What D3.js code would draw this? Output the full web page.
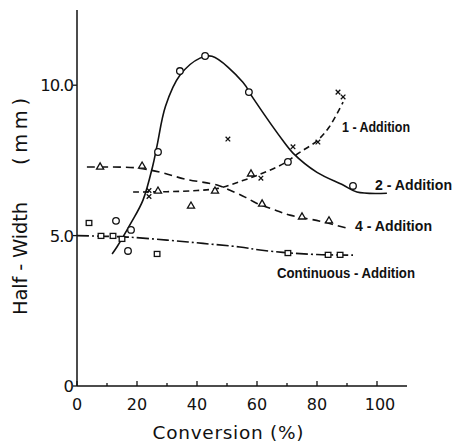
<!DOCTYPE html>
<html><head><meta charset="utf-8">
<script src="https://cdn.jsdelivr.net/npm/d3@7"></script>
<style>html,body{margin:0;padding:0;background:#fff}</style>
</head><body>
<svg id="c" width="455" height="443"></svg>
<script>
// ---- data ----
const xTicks = [0, 20, 40, 60, 80, 100];
const xMinorTicks = [10, 30, 50, 70, 90];
const yTicks = [0, 5, 10];
const yTickLabels = ["0", "5.0", "10.0"];
const xLabel = "Conversion (%)";
const yLabelParts = ["Half - Width", "(mm)"];
const seriesNames = ["1 - Addition", "2 - Addition", "4 - Addition", "Continuous - Addition"];

// 2-Addition (circles)
const twoX = [13, 17, 18, 27, 34.3, 42.7, 57.3, 70.3, 92];
const twoY = [5.49, 4.49, 5.19, 7.78, 10.47, 10.97, 9.77, 7.45, 6.65];
const twoFitX = [11.7, 13.3, 18, 22, 25.3, 26.7, 29.5, 34.3, 41, 45, 55.3, 58.7, 69.3, 72, 80, 88.7, 93.3, 103.3];
const twoFitY = [4.39, 4.62, 5.42, 6.18, 7.34, 8.0, 9.3, 10.33, 10.9, 10.96, 10.1, 9.57, 8.07, 7.74, 7.1, 6.68, 6.45, 6.41];

// 1-Addition (crosses)
const oneX = [24, 24, 50.3, 61.3, 72, 80.3, 87, 88.7];
const oneY = [6.5, 6.3, 8.21, 6.91, 7.95, 8.11, 9.77, 9.61];
const oneFitX = [18.7, 30, 40, 47, 55, 62, 69, 74, 80, 84, 88.7];
const oneFitY = [6.45, 6.46, 6.5, 6.57, 6.82, 7.08, 7.4, 7.75, 8.15, 8.6, 9.44];

// 4-Addition (triangles)
const fourX = [7.7, 21.7, 27, 38, 46, 58, 61.7, 75, 84];
const fourY = [7.28, 7.31, 6.48, 5.98, 6.48, 7.05, 6.05, 5.62, 5.49];
const fourFitX = [3.3, 12, 20, 28, 36, 46.7, 51, 56, 60, 66, 71, 81, 91];
const fourFitY = [7.28, 7.28, 7.25, 7.1, 6.88, 6.68, 6.51, 6.28, 6.07, 5.85, 5.68, 5.48, 5.22];

// Continuous-Addition (squares)
const contX = [4, 8, 12, 15, 26.7, 70.3, 83.7, 87.7];
const contY = [5.42, 4.99, 4.99, 4.89, 4.39, 4.42, 4.36, 4.36];
const contFitX = [0, 8, 17, 30, 42, 54.3, 61, 70, 80, 92];
const contFitY = [5.0, 4.98, 4.95, 4.85, 4.74, 4.62, 4.52, 4.43, 4.37, 4.35];

// ---- drawing ----
const svg = d3.select("#c");
const x = d3.scaleLinear().domain([0, 110]).range([77, 407]);
const y = d3.scaleLinear().domain([0, 12.5]).range([386, 10]);
const ink = "#111";

// axes
const gx = svg.append("g").attr("transform", `translate(0,${y(0)})`);
gx.append("line").attr("x1", x(0)).attr("x2", x(110)).attr("stroke", ink).attr("stroke-width", 1.5);
gx.selectAll(".maj").data(xTicks).join("line")
  .attr("x1", d => x(d)).attr("x2", d => x(d)).attr("y1", 0).attr("y2", -5)
  .attr("stroke", ink).attr("stroke-width", 1.3);
gx.selectAll(".min").data(xMinorTicks).join("line")
  .attr("x1", d => x(d)).attr("x2", d => x(d)).attr("y1", 0).attr("y2", -3)
  .attr("stroke", ink).attr("stroke-width", 1.3);
gx.selectAll("text").data(xTicks).join("text")
  .attr("x", d => x(d) + (d === 100 ? 3 : 0)).attr("y", 24)
  .attr("text-anchor", "middle")
  .attr("font-family", "DejaVu Sans, sans-serif").attr("font-size", 16)
  .attr("fill", ink).text(d => d);

const gy = svg.append("g").attr("transform", `translate(${x(0)},0)`);
gy.append("line").attr("y1", y(0)).attr("y2", y(12.5)).attr("stroke", ink).attr("stroke-width", 1.5);
gy.selectAll("line.t").data(yTicks).join("line").attr("class", "t")
  .attr("x1", 0).attr("x2", -4).attr("y1", d => y(d)).attr("y2", d => y(d))
  .attr("stroke", ink).attr("stroke-width", 1.3);
gy.selectAll("text").data(yTicks).join("text")
  .attr("x", -4).attr("y", d => y(d) + 6)
  .attr("text-anchor", "end")
  .attr("font-family", "DejaVu Sans, sans-serif").attr("font-size", 16.5)
  .attr("letter-spacing", -1)
  .attr("fill", ink).text((d, i) => yTickLabels[i]);

svg.append("text").attr("x", 228).attr("y", 439).attr("text-anchor", "middle")
  .attr("font-family", "DejaVu Sans, sans-serif").attr("font-size", 18.5)
  .attr("textLength", 151).attr("lengthAdjust", "spacing")
  .attr("fill", ink).text(xLabel);
const yLabelPos = [[258.5, 113], [131.5, 67]];
svg.append("g").selectAll("text").data(yLabelParts).join("text")
  .attr("transform", (d, i) => `translate(27,${yLabelPos[i][0]}) rotate(-90)`)
  .attr("text-anchor", "middle")
  .attr("font-family", "DejaVu Sans, sans-serif").attr("font-size", 19.5)
  .attr("textLength", (d, i) => yLabelPos[i][1]).attr("lengthAdjust", "spacing")
  .attr("fill", ink).text(d => d);

// curves
const zip = (xs, ys) => xs.map((v, i) => [v, ys[i]]);
const line = d3.line().x(d => x(d[0])).y(d => y(d[1])).curve(d3.curveCatmullRom.alpha(0.5));
function drawCurve(pts, dash) {
  svg.append("path").attr("d", line(pts)).attr("fill", "none")
    .attr("stroke", ink).attr("stroke-width", 1.6)
    .attr("stroke-dasharray", dash);
}
drawCurve(zip(twoFitX, twoFitY), null);
drawCurve(zip(oneFitX, oneFitY), "6,4");
drawCurve(zip(fourFitX, fourFitY), "8,5");
drawCurve(zip(contFitX, contFitY), "12,3,2,3");

// markers
svg.append("g").selectAll("circle").data(zip(twoX, twoY)).join("circle")
  .attr("cx", d => x(d[0])).attr("cy", d => y(d[1])).attr("r", 3.3)
  .attr("fill", "#fff").attr("stroke", ink).attr("stroke-width", 1.3);
svg.append("g").selectAll("path").data(zip(oneX, oneY)).join("path")
  .attr("d", d => { const cx = x(d[0]), cy = y(d[1]), s = 2.3;
    return `M${cx-s},${cy-s}L${cx+s},${cy+s}M${cx-s},${cy+s}L${cx+s},${cy-s}`; })
  .attr("stroke", ink).attr("stroke-width", 1.3).attr("fill", "none");
svg.append("g").selectAll("path").data(zip(fourX, fourY)).join("path")
  .attr("d", d3.symbol(d3.symbolTriangle, 22))
  .attr("transform", d => `translate(${x(d[0])},${y(d[1])})`)
  .attr("fill", "#fff").attr("stroke", ink).attr("stroke-width", 1.3);
svg.append("g").selectAll("rect").data(zip(contX, contY)).join("rect")
  .attr("x", d => x(d[0]) - 2.8).attr("y", d => y(d[1]) - 2.5)
  .attr("width", 5.6).attr("height", 5)
  .attr("fill", "#fff").attr("stroke", ink).attr("stroke-width", 1.3);

// series labels
const labelPos = [[342, 132, 68], [375, 190, 77], [355, 231, 77], [277, 278, 138]];
svg.append("g").selectAll("text").data(seriesNames).join("text")
  .attr("x", (d, i) => labelPos[i][0]).attr("y", (d, i) => labelPos[i][1])
  .attr("textLength", (d, i) => labelPos[i][2]).attr("lengthAdjust", "spacingAndGlyphs")
  .attr("font-family", "Liberation Sans, Arial, sans-serif").attr("font-weight", "bold")
  .attr("font-size", 14).attr("fill", ink).text(d => d);
</script>
</body></html>
